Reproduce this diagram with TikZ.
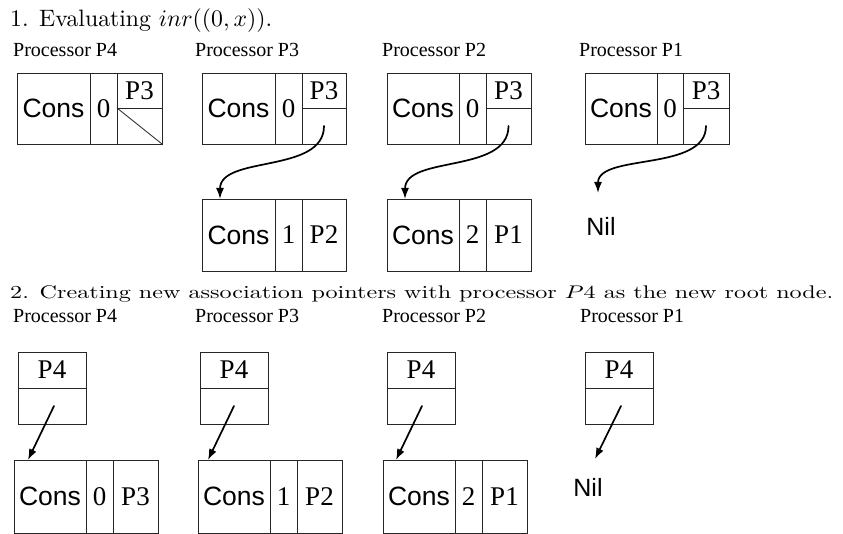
\documentclass[tikz,border=0pt]{standalone}
\usepackage{fontspec}
\usepackage{graphicx}
\usetikzlibrary{arrows.meta,calc}
\newfontfamily\sansf{Liberation Sans}
\newfontfamily\serff{Liberation Serif}
\newcommand\consfont{\sansf\fontsize{26.5}{30}\selectfont}
\newcommand\numfont{\serff\fontsize{27}{30}\selectfont}
\newcommand\nilfont{\sansf\fontsize{25}{28}\selectfont}
\newcommand\procfont{\serff\fontsize{20}{24}\selectfont}
\begin{document}
\begin{tikzpicture}[x=1pt,y=-1pt,
  cell/.style={draw=black!85, line width=0.8pt, inner sep=0pt, outer sep=0pt, anchor=north west},
  proc/.style={anchor=base west, inner sep=0pt, font=\procfont},
  nil/.style={inner sep=0pt, font=\nilfont},
  ptr/.style={-{Latex[length=11pt,width=8pt]}, line width=1.7pt, line cap=round},
  title/.style={anchor=base west, inner sep=0pt}]
\useasboundingbox (0,0) rectangle (843,534);

% ---------- titles ----------
\node[title] (t1) at (10,27) {\resizebox{262pt}{!}{\fontsize{10}{12}\selectfont 1. Evaluating $inr((0,x))$.}};
\node[title] (t2) at (10,299) {\resizebox{823pt}{12.9pt}{\fontsize{10}{12}\selectfont 2. Creating new association pointers with processor $P4$ as the new root node.}};

% ---------- part 1 labels ----------
\node[proc] (l1a) at (13,57) {Processor P4};
\node[proc] (l1b) at (195,57) {Processor P3};
\node[proc] (l1c) at (382,57) {Processor P2};
\node[proc] (l1d) at (579,57) {Processor P1};

% ---------- part 1 top row ----------
% P4
\node[cell, minimum width=73pt, minimum height=71pt] (a1) at (17,73) {\consfont Cons};
\node[cell, minimum width=27pt, minimum height=71pt] (a2) at (a1.north east) {\numfont 0};
\node[cell, minimum width=45pt, minimum height=35pt] (a3) at (a2.north east) {\numfont P3};
\node[cell, minimum width=45pt, minimum height=36pt] (a4) at (a3.south west) {};
\draw[draw=black!85, line width=0.8pt] (a4.north west) -- (a4.south east);
% P3
\node[cell, minimum width=73pt, minimum height=71pt] (b1) at (202,73) {\consfont Cons};
\node[cell, minimum width=27pt, minimum height=71pt] (b2) at (b1.north east) {\numfont 0};
\node[cell, minimum width=44pt, minimum height=35pt] (b3) at (b2.north east) {\numfont P3};
\node[cell, minimum width=44pt, minimum height=36pt] (b4) at (b3.south west) {};
% P2
\node[cell, minimum width=72pt, minimum height=71pt] (c1) at (387,73) {\consfont Cons};
\node[cell, minimum width=27pt, minimum height=71pt] (c2) at (c1.north east) {\numfont 0};
\node[cell, minimum width=45pt, minimum height=35pt] (c3) at (c2.north east) {\numfont P3};
\node[cell, minimum width=45pt, minimum height=36pt] (c4) at (c3.south west) {};
% P1
\node[cell, minimum width=72pt, minimum height=71pt] (d1) at (585,73) {\consfont Cons};
\node[cell, minimum width=26pt, minimum height=71pt] (d2) at (d1.north east) {\numfont 0};
\node[cell, minimum width=46pt, minimum height=35pt] (d3) at (d2.north east) {\numfont P3};
\node[cell, minimum width=46pt, minimum height=36pt] (d4) at (d3.south west) {};

% ---------- part 1 bottom row ----------
\node[cell, minimum width=73pt, minimum height=72pt] (bb1) at (202,199) {\consfont Cons};
\node[cell, minimum width=27pt, minimum height=72pt] (bb2) at (bb1.north east) {\numfont 1};
\node[cell, minimum width=44pt, minimum height=72pt] (bb3) at (bb2.north east) {\numfont P2};
\node[cell, minimum width=72pt, minimum height=72pt] (cc1) at (387,199) {\consfont Cons};
\node[cell, minimum width=27pt, minimum height=72pt] (cc2) at (cc1.north east) {\numfont 2};
\node[cell, minimum width=45pt, minimum height=72pt] (cc3) at (cc2.north east) {\numfont P1};
\node[nil] (nil1) at (601,226) {Nil};

% ---------- part 1 curved pointers ----------
\draw[ptr] (b4.center) .. controls +(0,48) and +(0,-44) .. ($(bb1.north west)+(18,0)$);
\draw[ptr] (c4.center) .. controls +(0,48) and +(0,-44) .. ($(cc1.north west)+(18,0)$);
\draw[ptr] (d4.center) .. controls +(0,46) and +(0,-40) .. ($(nil1.center)+(-3,-33)$);

% ---------- part 2 labels ----------
\node[proc] (l2a) at (13,323) {Processor P4};
\node[proc] (l2b) at (195,323) {Processor P3};
\node[proc] (l2c) at (382,323) {Processor P2};
\node[proc] (l2d) at (580,323) {Processor P1};

% ---------- part 2 root boxes ----------
\node[cell, minimum width=68pt, minimum height=36pt] (ra1) at (18,352) {\numfont P4};
\node[cell, minimum width=68pt, minimum height=36pt] (ra2) at (ra1.south west) {};
\node[cell, minimum width=68pt, minimum height=36pt] (rb1) at (200,352) {\numfont P4};
\node[cell, minimum width=68pt, minimum height=36pt] (rb2) at (rb1.south west) {};
\node[cell, minimum width=68pt, minimum height=36pt] (rc1) at (387,352) {\numfont P4};
\node[cell, minimum width=68pt, minimum height=36pt] (rc2) at (rc1.south west) {};
\node[cell, minimum width=68pt, minimum height=36pt] (rd1) at (585,352) {\numfont P4};
\node[cell, minimum width=68pt, minimum height=36pt] (rd2) at (rd1.south west) {};

% ---------- part 2 cons boxes ----------
\node[cell, minimum width=72pt, minimum height=73pt] (sa1) at (14,460) {\consfont Cons};
\node[cell, minimum width=27pt, minimum height=73pt] (sa2) at (sa1.north east) {\numfont 0};
\node[cell, minimum width=45pt, minimum height=73pt] (sa3) at (sa2.north east) {\numfont P3};
\node[cell, minimum width=72pt, minimum height=73pt] (sb1) at (198,460) {\consfont Cons};
\node[cell, minimum width=27pt, minimum height=73pt] (sb2) at (sb1.north east) {\numfont 1};
\node[cell, minimum width=45pt, minimum height=73pt] (sb3) at (sb2.north east) {\numfont P2};
\node[cell, minimum width=72pt, minimum height=73pt] (sc1) at (383,460) {\consfont Cons};
\node[cell, minimum width=27pt, minimum height=73pt] (sc2) at (sc1.north east) {\numfont 2};
\node[cell, minimum width=45pt, minimum height=73pt] (sc3) at (sc2.north east) {\numfont P1};
\node[nil] (nil2) at (588,487) {Nil};

% ---------- part 2 straight pointers ----------
\draw[ptr] ($(ra2.center)+(2,0)$) -- ($(sa1.north west)+(14,0)$);
\draw[ptr] ($(rb2.center)+(0,0)$) -- ($(sb1.north west)+(10,0)$);
\draw[ptr] ($(rc2.center)+(1,0)$) -- ($(sc1.north west)+(13,0)$);
\draw[ptr] ($(rd2.center)+(2,0)$) -- ($(nil2.center)+(7,-28)$);
\end{tikzpicture}
\end{document}
